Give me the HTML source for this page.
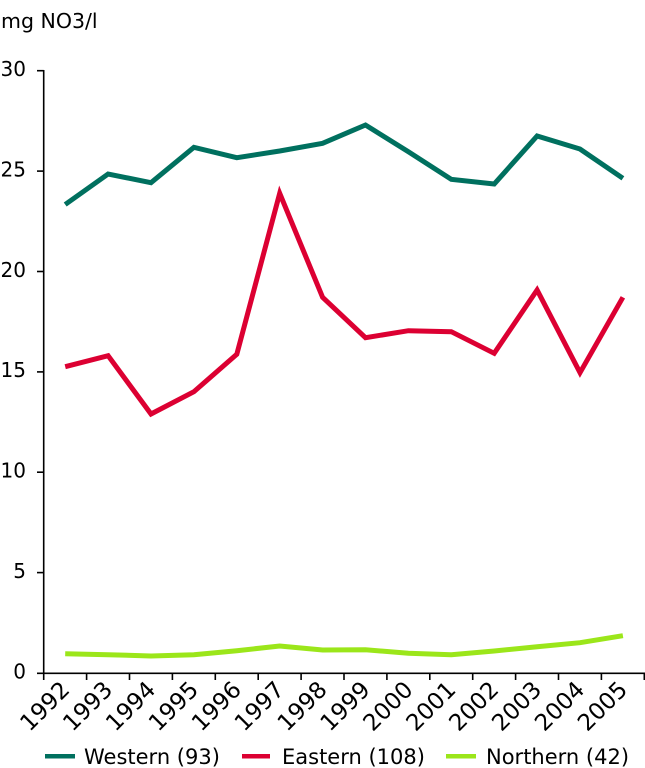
<!DOCTYPE html>
<html><head><meta charset="utf-8"><style>
html,body{margin:0;padding:0;background:#fff;}
svg{display:block;}
text{font-family:"DejaVu Sans","Liberation Sans",sans-serif;fill:#000;}
</style></head><body>
<svg width="645" height="768" viewBox="0 0 645 768" xmlns="http://www.w3.org/2000/svg">
<text x="1" y="28" font-size="20.5">mg NO3/l</text>
<g font-size="20" text-anchor="end">
<text x="26" y="76">30</text>
<text x="26" y="176.5">25</text>
<text x="26" y="277">20</text>
<text x="26" y="377">15</text>
<text x="26" y="477.5">10</text>
<text x="26" y="578">5</text>
<text x="26" y="678.5">0</text>
</g>
<g stroke="#000" stroke-width="1.6" fill="none">
<line x1="43.7" y1="70" x2="43.7" y2="674"/>
<line x1="37" y1="673.3" x2="645" y2="673.3"/>
<line x1="37" y1="70.7" x2="43.7" y2="70.7"/>
<line x1="37" y1="171.1" x2="43.7" y2="171.1"/>
<line x1="37" y1="271.5" x2="43.7" y2="271.5"/>
<line x1="37" y1="371.9" x2="43.7" y2="371.9"/>
<line x1="37" y1="472.2" x2="43.7" y2="472.2"/>
<line x1="37" y1="572.6" x2="43.7" y2="572.6"/>
<line x1="43.7" y1="673" x2="43.7" y2="680"/>
<line x1="86.6" y1="673" x2="86.6" y2="680"/>
<line x1="129.5" y1="673" x2="129.5" y2="680"/>
<line x1="172.4" y1="673" x2="172.4" y2="680"/>
<line x1="215.3" y1="673" x2="215.3" y2="680"/>
<line x1="258.2" y1="673" x2="258.2" y2="680"/>
<line x1="301.1" y1="673" x2="301.1" y2="680"/>
<line x1="344" y1="673" x2="344" y2="680"/>
<line x1="386.9" y1="673" x2="386.9" y2="680"/>
<line x1="429.8" y1="673" x2="429.8" y2="680"/>
<line x1="472.7" y1="673" x2="472.7" y2="680"/>
<line x1="515.6" y1="673" x2="515.6" y2="680"/>
<line x1="558.5" y1="673" x2="558.5" y2="680"/>
<line x1="601.4" y1="673" x2="601.4" y2="680"/>
<line x1="644.3" y1="673" x2="644.3" y2="680"/>
</g>
<g font-size="23" text-anchor="end">
<text transform="translate(71,691) rotate(-45)">1992</text>
<text transform="translate(113.9,691) rotate(-45)">1993</text>
<text transform="translate(156.8,691) rotate(-45)">1994</text>
<text transform="translate(199.7,691) rotate(-45)">1995</text>
<text transform="translate(242.6,691) rotate(-45)">1996</text>
<text transform="translate(285.5,691) rotate(-45)">1997</text>
<text transform="translate(328.4,691) rotate(-45)">1998</text>
<text transform="translate(371.3,691) rotate(-45)">1999</text>
<text transform="translate(414.2,691) rotate(-45)">2000</text>
<text transform="translate(457.1,691) rotate(-45)">2001</text>
<text transform="translate(500,691) rotate(-45)">2002</text>
<text transform="translate(542.9,691) rotate(-45)">2003</text>
<text transform="translate(585.8,691) rotate(-45)">2004</text>
<text transform="translate(628.7,691) rotate(-45)">2005</text>
</g>
<g fill="none" stroke-width="5" stroke-linejoin="miter" stroke-linecap="butt">
<polyline stroke="#00705f" points="65.2,204.5 108.1,174 151,182.7 193.9,147.3 236.8,157.7 279.7,151 322.6,143.3 365.5,125 408.4,151.7 451.3,179.3 494.2,184 537.1,136 580,149 622.9,178.3"/>
<polyline stroke="#dc0032" points="65.2,366.7 108.1,355.7 151,414 193.9,391.7 236.8,354.3 279.7,193.3 322.6,297.3 365.5,337.7 408.4,330.7 451.3,331.7 494.2,353.3 537.1,290 580,372.7 622.9,297.3"/>
<polyline stroke="#9be61a" points="65.2,653.7 108.1,654.7 151,656 193.9,654.7 236.8,650.7 279.7,646 322.6,650 365.5,649.7 408.4,653.3 451.3,654.7 494.2,651 537.1,646.7 580,642.7 622.9,635.7"/>
</g>
<g stroke-width="4.5">
<line x1="45" y1="756.2" x2="75" y2="756.2" stroke="#00705f"/>
<line x1="242" y1="756.2" x2="270" y2="756.2" stroke="#dc0032"/>
<line x1="446" y1="756.2" x2="476" y2="756.2" stroke="#9be61a"/>
</g>
<g font-size="21">
<text x="84" y="764">Western (93)</text>
<text x="282" y="764">Eastern (108)</text>
<text x="486" y="764">Northern (42)</text>
</g>
</svg>
</body></html>
